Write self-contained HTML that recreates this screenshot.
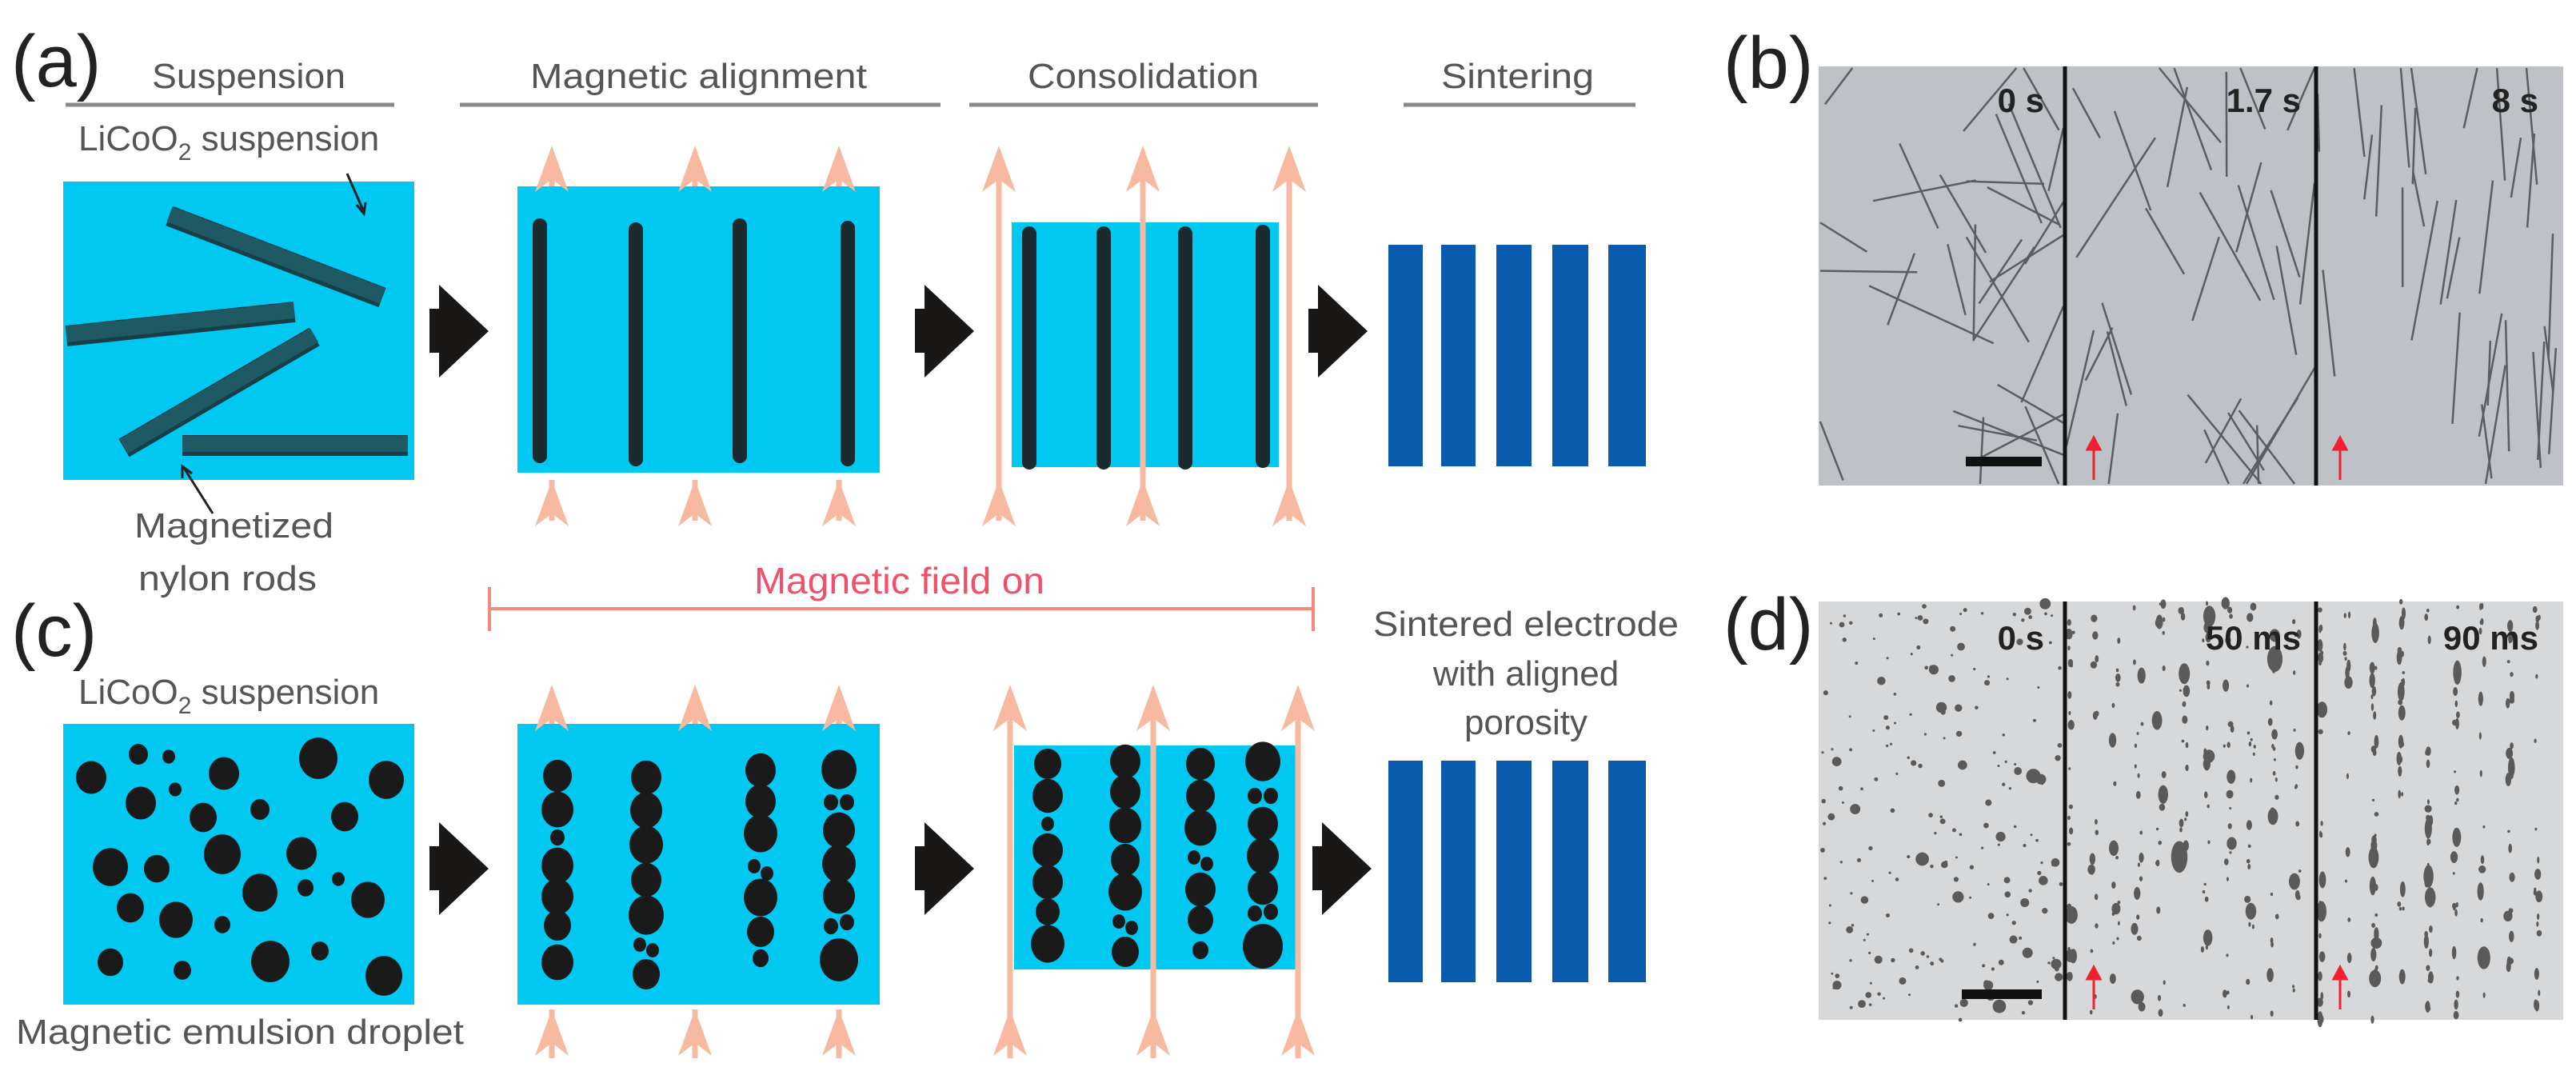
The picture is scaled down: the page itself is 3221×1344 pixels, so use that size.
<!DOCTYPE html>
<html><head><meta charset="utf-8"><style>
html,body{margin:0;padding:0;background:#fff;width:3221px;height:1344px;overflow:hidden}
svg text{font-family:"Liberation Sans",sans-serif}
</style></head><body>
<svg id="s" width="3221" height="1344" viewBox="0 0 3221 1344" xmlns="http://www.w3.org/2000/svg">
<defs>
<g id="ah"><polygon points="0,0 -21,58 0,42 21,58" fill="#f8b9a1"/></g>
<g id="bigarr"><rect x="0" y="30" width="16" height="55" fill="#1a1717"/><polygon points="12,0 74,58 12,116" fill="#1a1717"/></g>
</defs>
<text x="14" y="108" font-size="92" fill="#222">(a)</text>
<text x="14" y="820" font-size="92" fill="#222">(c)</text>
<text x="2155" y="110" font-size="92" fill="#222">(b)</text>
<text x="2155" y="812" font-size="92" fill="#222">(d)</text>
<g fill="#555" font-size="44">
<text x="190" y="110" textLength="242" lengthAdjust="spacingAndGlyphs">Suspension</text>
<text x="663" y="110" textLength="421" lengthAdjust="spacingAndGlyphs">Magnetic alignment</text>
<text x="1285" y="110" textLength="289" lengthAdjust="spacingAndGlyphs">Consolidation</text>
<text x="1802" y="110" textLength="191" lengthAdjust="spacingAndGlyphs">Sintering</text>
<text x="98" y="188">LiCoO<tspan font-size="30" dy="12">2</tspan><tspan dy="-12"> suspension</tspan></text>
<text x="98" y="880">LiCoO<tspan font-size="30" dy="12">2</tspan><tspan dy="-12"> suspension</tspan></text>
<text x="168" y="672" textLength="249" lengthAdjust="spacingAndGlyphs">Magnetized</text>
<text x="173" y="738" textLength="223" lengthAdjust="spacingAndGlyphs">nylon rods</text>
<text x="20" y="1305" textLength="560" lengthAdjust="spacingAndGlyphs">Magnetic emulsion droplet</text>
<text x="1908" y="795" text-anchor="middle" textLength="382" lengthAdjust="spacingAndGlyphs">Sintered electrode</text>
<text x="1908" y="857" text-anchor="middle">with aligned</text>
<text x="1908" y="918" text-anchor="middle">porosity</text>
</g>
<g stroke="#8a8a8a" stroke-width="5">
<line x1="82" y1="131" x2="493" y2="131"/><line x1="575" y1="131" x2="1176" y2="131"/>
<line x1="1212" y1="131" x2="1648" y2="131"/><line x1="1755" y1="131" x2="2045" y2="131"/>
</g>
<text x="943" y="742" font-size="46" fill="#f0506a" textLength="363" lengthAdjust="spacingAndGlyphs">Magnetic field on</text>
<g stroke="#f28a80" stroke-width="4"><line x1="612" y1="761" x2="1642" y2="761"/><line x1="612" y1="734" x2="612" y2="789"/><line x1="1642" y1="734" x2="1642" y2="789"/></g>

<rect x="79" y="227" width="439" height="373" fill="#00c8f0"/>
<g stroke="#163f47" stroke-width="26" stroke-linecap="butt">
<line x1="212" y1="270" x2="478" y2="372"/>
<line x1="83" y1="420" x2="368" y2="390"/>
<line x1="155" y1="560" x2="393" y2="421"/>
<line x1="228" y1="557" x2="510" y2="557"/>
</g>
<g stroke="#1e5964" stroke-width="20" stroke-linecap="butt">
<line x1="212" y1="268" x2="478" y2="370"/>
<line x1="83" y1="418" x2="368" y2="388"/>
<line x1="155" y1="558" x2="393" y2="419"/>
<line x1="228" y1="555" x2="510" y2="555"/>
</g>
<g stroke="#222" stroke-width="3" fill="none">
<line x1="434" y1="217" x2="455" y2="265"/><polyline points="446,256 455,267 457,253"/>
<line x1="266" y1="642" x2="230" y2="585"/><polyline points="228,598 228,583 240,592"/>
<line x1="318" y1="906" x2="343" y2="952"/><polyline points="335,945 345,955 347,941"/>
<line x1="135" y1="1253" x2="135" y2="1218"/><polyline points="127,1228 135,1216 143,1228"/>
</g>
<rect x="647" y="233" width="453" height="358" fill="#00c8f0"/>
<g stroke="#1a2a2e" stroke-width="18" stroke-linecap="round">
<line x1="675" y1="282" x2="675" y2="570"/><line x1="795" y1="287" x2="795" y2="574"/>
<line x1="925" y1="282" x2="925" y2="570"/><line x1="1060" y1="285" x2="1060" y2="574"/>
</g>
<rect x="1265" y="278" width="334" height="306" fill="#00c8f0"/>
<g stroke="#1a2a2e" stroke-width="18" stroke-linecap="round">
<line x1="1287" y1="292" x2="1287" y2="578"/><line x1="1380" y1="292" x2="1380" y2="578"/>
<line x1="1482" y1="292" x2="1482" y2="578"/><line x1="1579" y1="290" x2="1579" y2="576"/>
</g>
<g id="sint">
<rect x="1736" y="306" width="43" height="277" fill="#0a5bad"/><rect x="1802" y="306" width="43" height="277" fill="#0a5bad"/>
<rect x="1871" y="306" width="44" height="277" fill="#0a5bad"/><rect x="1941" y="306" width="45" height="277" fill="#0a5bad"/>
<rect x="2011" y="306" width="47" height="277" fill="#0a5bad"/>
</g>
<use href="#sint" transform="translate(0,645)"/>
<use href="#bigarr" x="537" y="356"/><use href="#bigarr" x="1144" y="356"/><use href="#bigarr" x="1636" y="356"/>
<use href="#bigarr" x="537" y="1028"/><use href="#bigarr" x="1144" y="1028"/><use href="#bigarr" x="1641" y="1028"/>

<rect x="79" y="905" width="439" height="351" fill="#00c8f0"/>
<rect x="647" y="905" width="453" height="351" fill="#00c8f0"/>
<rect x="1268" y="932" width="358" height="280" fill="#00c8f0"/>
<g id="drops" fill="#1a1a1a"></g>
<g id="field"></g>

<rect x="2274" y="83" width="931" height="524" fill="#bec2c6"/>
<g id="rodsb" stroke="#5a5d61" stroke-width="2.5" fill="none"></g>
<rect x="2274" y="752" width="931" height="523" fill="#d6d8da"/>
<g id="dotsd" fill="#5a5a5a"></g>
<g stroke="#111" stroke-width="5"><line x1="2582" y1="83" x2="2582" y2="607"/><line x1="2896" y1="83" x2="2896" y2="607"/>
<line x1="2582" y1="752" x2="2582" y2="1275"/><line x1="2896" y1="752" x2="2896" y2="1275"/></g>
<g font-size="42" font-weight="bold" fill="#222" text-anchor="end">
<text x="2556" y="140">0 s</text><text x="2877" y="140">1.7 s</text><text x="3174" y="140">8 s</text>
<text x="2556" y="812">0 s</text><text x="2877" y="812">50 ms</text><text x="3174" y="812">90 ms</text>
</g>
<rect x="2458" y="571" width="95" height="12" fill="#111"/><rect x="2453" y="1237" width="100" height="12" fill="#111"/>
<g stroke="#f02030" stroke-width="3" fill="#f02030">
<line x1="2618" y1="600" x2="2618" y2="555"/><polygon points="2610,562 2618,547 2626,562"/>
<line x1="2926" y1="600" x2="2926" y2="555"/><polygon points="2918,562 2926,547 2934,562"/>
<line x1="2618" y1="1262" x2="2618" y2="1217"/><polygon points="2610,1224 2618,1209 2626,1224"/>
<line x1="2926" y1="1262" x2="2926" y2="1217"/><polygon points="2918,1224 2926,1209 2934,1224"/>
</g>
</svg>
<script>
var NS="http://www.w3.org/2000/svg";
function el(p,n,a){var e=document.createElementNS(NS,n);for(var k in a)e.setAttribute(k,a[k]);document.getElementById(p).appendChild(e);return e;}
var seed=7;function R(){seed=(seed*16807)%2147483647;return seed/2147483647;}
function fline(x,y1,y2){el("field","line",{x1:x,y1:y1,x2:x,y2:y2,stroke:"#f8b9a1","stroke-width":7});}
function head(x,y){el("field","use",{href:"#ah",x:x,y:y});}
[690,869,1049].forEach(function(x){fline(x,195,233);head(x,182);fline(x,600,651);head(x,600);
 fline(x,868,905);head(x,856);fline(x,1262,1323);head(x,1262);});
[1249,1429,1612].forEach(function(x){fline(x,192,651);head(x,182);head(x,600);});
[1263,1442,1623].forEach(function(x){fline(x,866,1323);head(x,856);head(x,1262);});
[[114,972,19],[173,943,12],[211,946,8],[280,967,19],[398,948,24],[483,975,22],[176,1004,19],[219,987,8],[254,1022,17],[325,1012,12],[431,1021,17],[278,1068,23],[377,1067,19],[138,1084,22],[196,1086,16],[325,1116,22],[382,1110,10],[423,1099,8],[460,1125,21],[163,1135,17],[220,1150,21],[278,1156,10],[138,1203,16],[228,1213,11],[338,1202,24],[400,1189,11],[480,1220,23]].forEach(function(d){el("drops","ellipse",{cx:d[0],cy:d[1],rx:d[2],ry:d[2]*1.08});});
function chain(x,arr){arr.forEach(function(d){el("drops","ellipse",{cx:x+(d[2]||0),cy:d[0],rx:d[1],ry:d[1]*1.12});});}
chain(697,[[970,18],[1012,20],[1047,9],[1082,20],[1121,20],[1157,17],[1203,20]]);
chain(808,[[972,19],[1013,20],[1056,21],[1100,19],[1144,22],[1181,8,-8],[1188,8,8],[1218,17]]);
chain(951,[[963,19],[1002,19],[1042,21],[1083,8,-8],[1092,8,8],[1122,21],[1165,17],[1198,10]]);
chain(1049,[[962,22],[1003,9,-10],[1003,9,10],[1038,20],[1080,21],[1120,20],[1158,9,-10],[1153,9,10],[1200,24]]);
chain(1310,[[955,17],[995,19],[1030,8],[1063,19],[1103,19],[1140,15],[1180,21]]);
chain(1407,[[952,19],[990,19],[1032,20],[1075,18],[1115,21],[1152,8,-8],[1160,8,8],[1190,17]]);
chain(1501,[[955,18],[995,18],[1035,20],[1072,8,-8],[1080,8,8],[1112,19],[1150,16],[1188,10]]);
chain(1579,[[952,22],[995,9,-10],[995,9,10],[1030,19],[1070,20],[1110,19],[1142,9,-10],[1140,9,10],[1183,25]]);
function rod(x0,x1,y0,y1,angR){for(var i=0;i<30;i++){var cx=x0+R()*(x1-x0),cy=y0+R()*(y1-y0);var a=angR?(-Math.PI/2+(R()-0.5)*angR):R()*Math.PI;var L=70+R()*110;
 var dx=Math.cos(a)*L/2,dy=Math.sin(a)*L/2;
 el("rodsb","line",{x1:Math.max(x0,Math.min(x1,cx-dx)),y1:Math.max(y0,Math.min(y1,cy-dy)),x2:Math.max(x0,Math.min(x1,cx+dx)),y2:Math.max(y0,Math.min(y1,cy+dy))});}}
rod(2276,2580,85,605,0);rod(2584,2894,85,605,1.2);rod(2898,3203,85,605,0.4);
function dots(x0,x1,streak){for(var i=0;i<(streak?220:200);i++){var x,y=752+R()*523,r=1.5+R()*R()*R()*10;
 if(streak){x=x0+Math.floor(R()*streak.n)*((x1-x0)/streak.n)+R()*streak.j;}else x=x0+R()*(x1-x0);
 if(x<x0+3)x=x0+3;if(x>x1-3)x=x1-3;el("dotsd","ellipse",{cx:x,cy:y,rx:r,ry:streak?r*(1+streak.e*R()):r});}}
dots(2276,2580,null);dots(2584,2894,{n:11,j:10,e:1.0});dots(2898,3203,{n:9,j:6,e:2});
</script>
</body></html>
